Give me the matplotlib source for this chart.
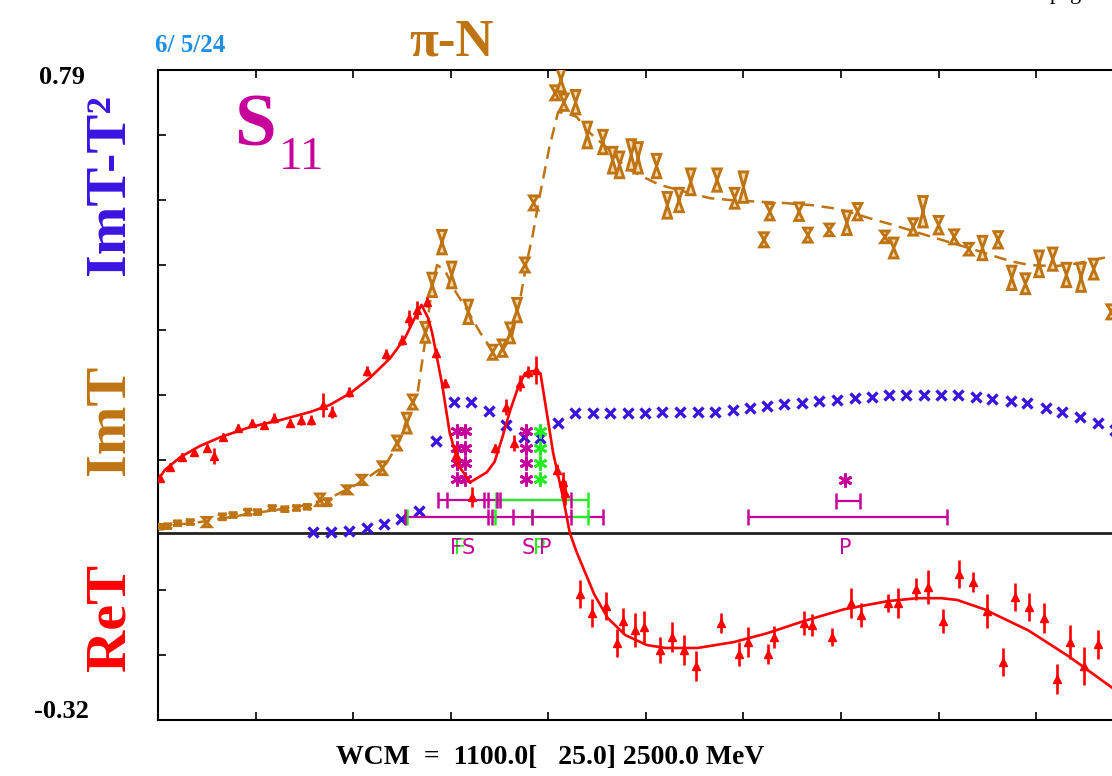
import numpy as np
import matplotlib
matplotlib.use('Agg')
import matplotlib.pyplot as plt  # noqa
from matplotlib.patches import Polygon  # noqa

plt.rcParams['font.family'] = ['Liberation Serif', 'DejaVu Serif']

RED = '#FF0000'
BROWN = '#BF7414'
BLUE = '#3A14E0'
MAGENTA = '#C8009B'
GREEN = '#22EE22'

# ReT data (W in MeV, value, error)
ret_w = [1102, 1112, 1125, 1137, 1150, 1157, 1167, 1182, 1196, 1209,
         1219, 1235, 1247, 1257, 1269, 1278, 1296, 1314, 1334, 1350,
         1357, 1365, 1376, 1385, 1394, 1405, 1422, 1445, 1457, 1465,
         1471, 1479, 1487, 1509, 1515, 1517,
         1532, 1545, 1559, 1570, 1577, 1589, 1598, 1615, 1627, 1639,
         1651, 1677, 1695, 1705, 1725, 1731, 1762, 1770, 1791, 1810,
         1821, 1848, 1858, 1877, 1889, 1905, 1921, 1935, 1950, 1966,
         1978, 1993, 2008, 2021, 2035, 2049, 2063]
ret_v = [0.093, 0.112, 0.129, 0.138, 0.144, 0.131, 0.163, 0.179, 0.187, 0.184,
         0.196, 0.187, 0.192, 0.192, 0.218, 0.206, 0.240, 0.276, 0.305, 0.329,
         0.366, 0.380, 0.394, 0.307, 0.255, 0.133, 0.061, 0.144, 0.214, 0.153,
         0.255, 0.274, 0.278, 0.107, 0.086, 0.068,
         -0.105, -0.137, -0.125, -0.189, -0.151, -0.166, -0.161, -0.200, -0.178, -0.200,
         -0.228, -0.154, -0.207, -0.187, -0.207, -0.178, -0.154, -0.158, -0.178, -0.120,
         -0.141, -0.120, -0.120, -0.096, -0.093, -0.151, -0.071, -0.085, -0.134, -0.221,
         -0.110, -0.127, -0.146, -0.250, -0.187, -0.228, -0.191]
ret_err = [0.007, 0.007, 0.007, 0.007, 0.007, 0.014, 0.007, 0.007, 0.007, 0.007,
           0.008, 0.007, 0.008, 0.009, 0.020, 0.010, 0.008, 0.008, 0.008, 0.008,
           0.014, 0.016, 0.008, 0.008, 0.008, 0.017, 0.017, 0.008, 0.014, 0.014,
           0.014, 0.010, 0.024, 0.010, 0.017, 0.020,
           0.024, 0.024, 0.024, 0.024, 0.022, 0.029, 0.027, 0.022, 0.026, 0.026,
           0.026, 0.017, 0.020, 0.026, 0.017, 0.019, 0.020, 0.019, 0.015, 0.026,
           0.020, 0.015, 0.026, 0.019, 0.029, 0.020, 0.024, 0.017, 0.029, 0.024,
           0.024, 0.024, 0.026, 0.026, 0.029, 0.032, 0.024]

# ReT fit curve
ret_fit_w = [1100, 1107, 1123, 1143, 1164, 1194, 1225, 1256, 1276, 1297,
             1317, 1338, 1353, 1363, 1370, 1377, 1381, 1391, 1399, 1409,
             1420, 1437, 1445, 1453, 1461, 1468, 1476, 1484, 1492, 1505,
             1515, 1522, 1529, 1547, 1561, 1579, 1601, 1620, 1653, 1690,
             1724, 1762, 1803, 1848, 1878, 1903, 1919, 1947, 1992, 2034,
             2078, 2110]
ret_fit_v = [0.090, 0.107, 0.129, 0.148, 0.163, 0.180, 0.192, 0.206, 0.218, 0.238,
             0.264, 0.298, 0.332, 0.366, 0.389, 0.366, 0.341, 0.255, 0.170, 0.112,
             0.086, 0.103, 0.121, 0.163, 0.209, 0.243, 0.272, 0.276, 0.272, 0.136,
             0.061, 0.000, -0.033, -0.105, -0.146, -0.175, -0.192, -0.197, -0.197, -0.187,
             -0.172, -0.151, -0.131, -0.117, -0.112, -0.112, -0.115, -0.131, -0.167, -0.212,
             -0.265, -0.305]

# ImT data (W, value, error)
imt_w = [1102, 1110, 1120, 1133, 1150, 1166, 1177, 1192, 1202, 1217,
         1230, 1242, 1253, 1266, 1274, 1294, 1309, 1330, 1345, 1355,
         1361, 1374, 1381, 1391, 1401, 1418, 1443, 1453, 1461, 1468,
         1476, 1485, 1507, 1513, 1516, 1528, 1540, 1556, 1566, 1573,
         1585, 1592, 1611, 1622, 1634, 1646, 1673, 1691, 1700, 1721,
         1727, 1757, 1766, 1788, 1806, 1817, 1845, 1854, 1874, 1884,
         1900, 1916, 1931, 1945, 1961, 1975, 1989, 2003, 2017, 2031,
         2046, 2059, 2077]
imt_v = [0.010, 0.011, 0.016, 0.018, 0.018, 0.027, 0.030, 0.035, 0.035, 0.042,
         0.040, 0.042, 0.044, 0.056, 0.052, 0.073, 0.090, 0.110, 0.153, 0.187,
         0.223, 0.342, 0.423, 0.496, 0.440, 0.377, 0.308, 0.315, 0.341, 0.380,
         0.457, 0.563, 0.751, 0.773, 0.735, 0.735, 0.679, 0.667, 0.636, 0.628,
         0.645, 0.640, 0.626, 0.559, 0.568, 0.599, 0.602, 0.571, 0.590, 0.500,
         0.548, 0.548, 0.508, 0.517, 0.529, 0.548, 0.505, 0.486, 0.522, 0.548,
         0.525, 0.505, 0.484, 0.486, 0.500, 0.435, 0.425, 0.459, 0.467, 0.440,
         0.436, 0.450, 0.377]
imt_err = [0.004, 0.004, 0.004, 0.004, 0.008, 0.005, 0.004, 0.005, 0.004, 0.004,
           0.004, 0.004, 0.004, 0.010, 0.006, 0.007, 0.008, 0.011, 0.012, 0.017,
           0.012, 0.017, 0.020, 0.020, 0.022, 0.020, 0.012, 0.014, 0.017, 0.020,
           0.012, 0.012, 0.012, 0.020, 0.014, 0.020, 0.022, 0.020, 0.022, 0.022,
           0.026, 0.026, 0.020, 0.022, 0.020, 0.022, 0.019, 0.017, 0.026, 0.012,
           0.014, 0.015, 0.012, 0.010, 0.020, 0.014, 0.010, 0.017, 0.014, 0.026,
           0.015, 0.012, 0.010, 0.020, 0.014, 0.020, 0.017, 0.022, 0.019, 0.020,
           0.024, 0.017, 0.012]

# ImT fit curve
imt_fit_w = [1100, 1143, 1194, 1246, 1276, 1307, 1333, 1348, 1358, 1366,
             1374, 1381, 1386, 1394, 1404, 1418, 1430, 1442, 1452, 1463,
             1471, 1478, 1484, 1491, 1501, 1510, 1519, 1529, 1543, 1563,
             1580, 1599, 1614, 1640, 1666, 1686, 1717, 1741, 1771, 1792,
             1808, 1829, 1850, 1870, 1891, 1911, 1937, 1963, 1978, 1993,
             2019, 2040, 2060, 2077, 2100]
imt_fit_v = [0.010, 0.018, 0.032, 0.045, 0.059, 0.085, 0.115, 0.158, 0.209, 0.238,
             0.329, 0.423, 0.457, 0.448, 0.414, 0.377, 0.342, 0.312, 0.308, 0.337,
             0.397, 0.462, 0.508, 0.573, 0.657, 0.718, 0.716, 0.710, 0.682, 0.653,
             0.623, 0.606, 0.594, 0.582, 0.571, 0.568, 0.565, 0.563, 0.559, 0.554,
             0.548, 0.537, 0.527, 0.517, 0.506, 0.496, 0.483, 0.469, 0.462, 0.457,
             0.455, 0.459, 0.466, 0.472, 0.478]

# ImT - T^2 (unitarity check)
uni_w = [1259, 1277, 1296, 1314, 1332, 1349, 1367, 1385, 1403, 1421,
         1439, 1457, 1475, 1492, 1510, 1527, 1546, 1563, 1582, 1599,
         1617, 1635, 1653, 1671, 1689, 1707, 1724, 1742, 1760, 1777,
         1796, 1814, 1832, 1849, 1867, 1885, 1902, 1920, 1938, 1955,
         1974, 1991, 2010, 2027, 2045, 2063, 2081]
uni_v = [0.001, 0.001, 0.003, 0.008, 0.015, 0.023, 0.037, 0.156, 0.223, 0.223,
         0.208, 0.184, 0.163, 0.162, 0.187, 0.204, 0.204, 0.204, 0.204, 0.204,
         0.206, 0.206, 0.206, 0.206, 0.209, 0.213, 0.216, 0.220, 0.221, 0.225,
         0.226, 0.230, 0.232, 0.235, 0.235, 0.235, 0.235, 0.235, 0.232, 0.228,
         0.225, 0.221, 0.213, 0.206, 0.197, 0.187, 0.175]

# resonance markers (asterisks)
mag_ast_w = [1406, 1406, 1406, 1406, 1415, 1415, 1415, 1415, 1477, 1477, 1477, 1477, 1804]
mag_ast_v = [0.174, 0.144, 0.119, 0.091, 0.174, 0.144, 0.119, 0.091,
             0.174, 0.144, 0.119, 0.091, 0.090]
grn_ast_w = [1491, 1491, 1491, 1491]
grn_ast_v = [0.174, 0.144, 0.119, 0.091]

# pole / width bars
mag_bar_lo = [1387, 1353, 1795, 1705]
mag_bar_hi = [1523, 1556, 1819, 1909]
mag_bar_v = [0.056, 0.027, 0.054, 0.027]
mag_tick_w = [1387, 1396, 1434, 1438, 1447, 1451, 1523,
              1353, 1438, 1442, 1464, 1483, 1523, 1556,
              1795, 1819, 1705, 1909]
mag_tick_v = [0.056] * 7 + [0.027] * 7 + [0.054, 0.054, 0.027, 0.027]
grn_bar_lo = [1446, 1523]
grn_bar_hi = [1541, 1541]
grn_bar_v = [0.056, 0.027]
grn_tick_w = [1446, 1541, 1355, 1445, 1483, 1541]
grn_tick_v = [0.056, 0.056, 0.027, 0.027, 0.027, 0.027]

pole_labels = [('F', 1410, GREEN), ('F', 1405, MAGENTA), ('S', 1418, MAGENTA),
               ('S', 1479, MAGENTA), ('P', 1491, GREEN), ('P', 1497, MAGENTA),
               ('P', 1804, MAGENTA)]

W_MIN, W_MAX = 1100, 2500
Y_MIN, Y_MAX = -0.32, 0.79

fig = plt.figure(figsize=(11.12, 7.76), dpi=100)
ax = fig.add_axes([158 / 1112, 56 / 776, 1366 / 1112, 650 / 776])
ax.set_xlim(W_MIN, W_MAX)
ax.set_ylim(Y_MIN, Y_MAX)
ax.set_xticks(np.arange(W_MIN, W_MAX + 1, 100))
ax.set_yticks(np.linspace(Y_MIN, Y_MAX, 11))
ax.tick_params(direction='in', length=6, width=1.2, top=True, right=True,
               labelbottom=False, labelleft=False)
for s in ax.spines.values():
    s.set_linewidth(1.5)

ax.axhline(0, color='#222222', lw=2.0, zorder=2)

# ImT: dashed fit and hourglass data
ax.plot(imt_fit_w, imt_fit_v, color=BROWN, lw=1.8, dashes=(5, 3), zorder=3)
hw = 4.3
for w, v, e in zip(imt_w, imt_v, imt_err):
    verts = [(w - hw, v + e), (w + hw, v + e), (w, v), (w + hw, v - e), (w - hw, v - e), (w, v)]
    ax.add_patch(Polygon(verts, closed=True, facecolor='#F3D9AE', edgecolor=BROWN,
                         lw=2.1, zorder=4))

# ImT - T^2
ax.plot(uni_w, uni_v, ls='none', marker='x', ms=7.5, mew=2.4, color=BLUE, zorder=5)

# bars
ax.hlines(mag_bar_v, mag_bar_lo, mag_bar_hi, color=MAGENTA, lw=1.6, zorder=5)
ax.hlines(grn_bar_v, grn_bar_lo, grn_bar_hi, color=GREEN, lw=1.6, zorder=5)
ax.plot(grn_tick_w, grn_tick_v, ls='none', marker='|', ms=11, mew=1.8, color=GREEN, zorder=6)
ax.plot(mag_tick_w, mag_tick_v, ls='none', marker='|', ms=11, mew=1.8, color=MAGENTA, zorder=6)

# asterisks
ax.plot(mag_ast_w, mag_ast_v, ls='none', marker=(6, 2, 0), ms=10, mew=2, color=MAGENTA, zorder=6)
ax.plot(grn_ast_w, grn_ast_v, ls='none', marker=(6, 2, 0), ms=10, mew=2, color=GREEN, zorder=6)

for txt, w, c in pole_labels:
    ax.text(w, -0.027, txt, color=c, fontsize=15, family='DejaVu Sans',
            ha='center', va='center', zorder=6)

# ReT: fit and data
ax.plot(ret_fit_w, ret_fit_v, color=RED, lw=1.9, zorder=7)
ax.errorbar(ret_w, ret_v, yerr=ret_err, fmt='^', ms=5.5, color=RED, ecolor=RED,
            elinewidth=1.9, capsize=0, zorder=8)

# texts around the frame
fig.text(155 / 1112, 1 - 45 / 776, '6/ 5/24', color='#1E8FE6', fontsize=18,
         fontweight='bold', ha='left', va='center')
fig.text(452 / 1112, 1 - 42 / 776, 'π-N', color=BROWN, fontsize=38,
         fontweight='bold', ha='center', va='center')
fig.text(62 / 1112, 1 - 77 / 776, '0.79', fontsize=19, fontweight='bold',
         ha='center', va='center')
fig.text(61 / 1112, 1 - 712 / 776, '-0.32', fontsize=19, fontweight='bold',
         ha='center', va='center')
fig.text(110 / 1112, 1 - 185 / 776, 'ImT-T²', color=BLUE, fontsize=42,
         fontweight='bold', rotation=90, ha='center', va='center')
fig.text(110 / 1112, 1 - 420 / 776, 'ImT', color=BROWN, fontsize=42,
         fontweight='bold', rotation=90, ha='center', va='center')
fig.text(110 / 1112, 1 - 617 / 776, 'ReT', color=RED, fontsize=42,
         fontweight='bold', rotation=90, ha='center', va='center')
fig.text(255 / 1112, 1 - 127 / 776, 'S', color=MAGENTA, fontsize=54,
         fontweight='bold', ha='center', va='center')
fig.text(302 / 1112, 1 - 158 / 776, '11', color=MAGENTA, fontsize=34,
         ha='center', va='center')
fig.text(550 / 1112, 1 - 758 / 776, 'WCM  =  1100.0[   25.0] 2500.0 MeV',
         fontsize=20, fontweight='bold', ha='center', va='center')
# page header, almost entirely above the visible area
fig.text(1050 / 1112, 1 + 1 / 776, 'page', fontsize=16, ha='left', va='baseline')

fig.savefig('out.png', dpi=100)
